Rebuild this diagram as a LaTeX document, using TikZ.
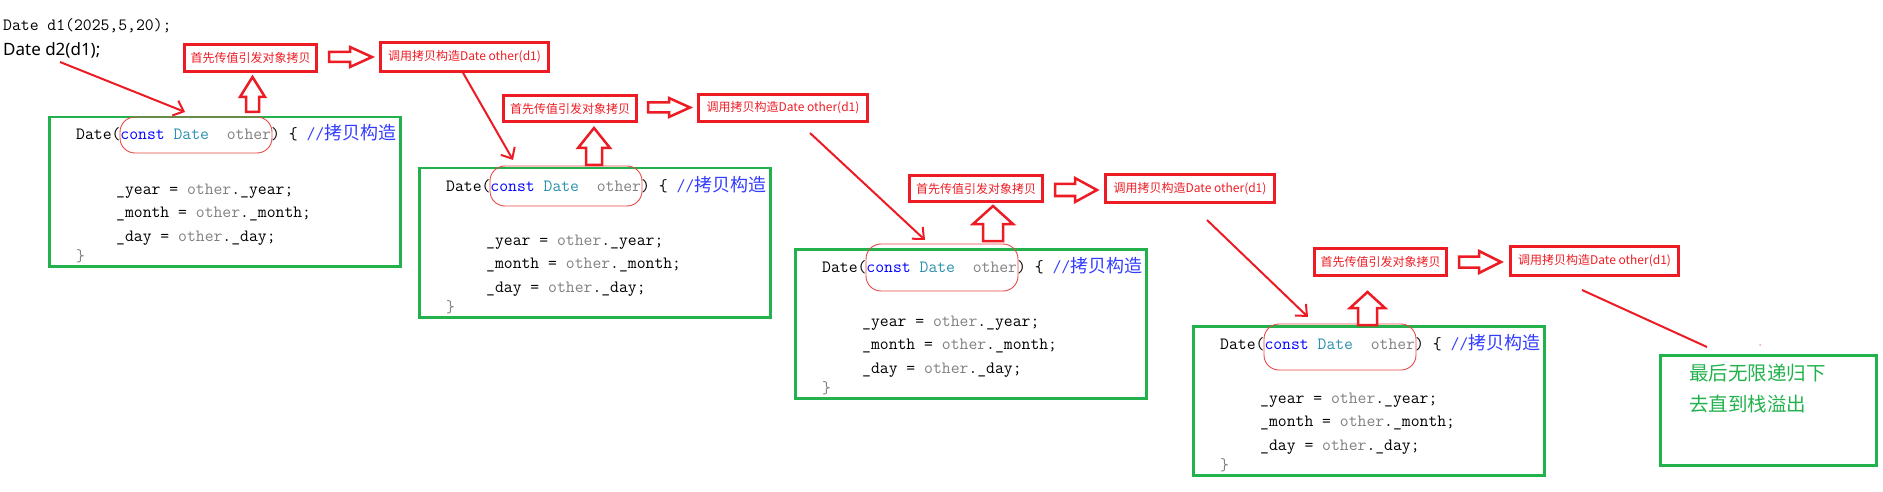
\documentclass[tikz,border=0pt]{standalone}
\usepackage{fontspec}
\usetikzlibrary{arrows.meta,calc}
\newfontfamily\cjk{Noto Sans CJK SC}
\newfontfamily\notosans{Noto Sans}
\definecolor{pred}{RGB}{237,28,36}
\definecolor{pgreen}{RGB}{34,177,76}
\definecolor{kwblue}{RGB}{0,0,255}
\definecolor{typeteal}{RGB}{43,145,175}
\definecolor{idgray}{RGB}{128,128,128}
\definecolor{cmblue}{RGB}{50,60,255}
\definecolor{ellred}{RGB}{232,70,70}
\definecolor{dotpink}{RGB}{245,160,170}
\newcommand\codefont{\ttfamily\fontsize{17.2}{20}\selectfont}
\tikzset{
  gbox/.style={draw=pgreen, line width=2.5pt, minimum width=351pt, minimum height=149pt, anchor=north west, inner sep=0pt},
  lbox/.style={draw=pred, line width=2.5pt, inner sep=0pt, text=pred, font=\cjk\fontsize{12}{14}\selectfont},
  code/.style={anchor=base west, inner sep=0pt, font=\codefont},
  hollow/.style={draw=pred, line width=2.5pt, fill=white, line join=miter},
  pointer/.style={draw=pred, line width=2pt, -{Straight Barb[length=9pt,width=16pt]}},
  plainline/.style={draw=pred, line width=2pt},
  oval/.style={draw=ellred, line width=0.9pt, rounded corners=15pt},
  finaltext/.style={anchor=west, inner sep=0pt, text=pgreen, font=\cjk\fontsize{19.5}{22}\selectfont},
}
% code block: name, X, Y (top-left), oval top, oval bottom
\newcommand\codeblock[5]{%
  \node[gbox] (#1) at (#2,#3) {};
  \node[code] (#1a) at ({#2+28},{#3+24}) {Date(\textcolor{kwblue}{const} \textcolor{typeteal}{Date}\ \ \textcolor{idgray}{other}) \{ \textcolor{cmblue}{//{\cjk\fontsize{18}{20}\selectfont 拷贝构造}}};
  \node[code] (#1b) at ({#2+68},{#3+78}) {\_year = \textcolor{idgray}{other}.\_year;};
  \node[code] (#1c) at ({#2+68},{#3+101}) {\_month = \textcolor{idgray}{other}.\_month;};
  \node[code] (#1d) at ({#2+68},{#3+125}) {\_day = \textcolor{idgray}{other}.\_day;};
  \node[code] (#1e) at ({#2+28},{#3+145}) {\textcolor{idgray}{\}}};
  \draw[oval] ({#2+72},#4) rectangle ({#2+224},#5);
}
% hollow right arrow: x0, x1, yc, head half, shaft half, head length
\newcommand\hollowRight[6]{%
  \draw[hollow] (#1,{#3-#5}) -- ({#2-#6},{#3-#5}) -- ({#2-#6},{#3-#4}) -- (#2,#3)
    -- ({#2-#6},{#3+#4}) -- ({#2-#6},{#3+#5}) -- (#1,{#3+#5}) -- cycle;
}
% hollow up arrow: xc, apex, bottom, head half, shaft half, head bottom
\newcommand\hollowUp[6]{%
  \draw[hollow] ({#1-#5},#3) -- ({#1-#5},#6) -- ({#1-#4},#6) -- (#1,#2)
    -- ({#1+#4},#6) -- ({#1+#5},#6) -- ({#1+#5},#3) -- cycle;
}
\begin{document}
\begin{tikzpicture}[x=1pt,y=-1pt]
\useasboundingbox (0,0) rectangle (1883,492);

% top statements
\node[anchor=west, inner sep=0pt, font=\codefont] (d1) at (3,26) {Date d1(2025,5,20);};
\node[anchor=west, inner sep=0pt, font=\notosans\fontsize{17}{20}\selectfont] (d2) at (3,50) {Date d2(d1);};

% code blocks
\codeblock{gA}{48}{116}{117}{153}
\codeblock{gB}{418}{167}{166}{206}
\codeblock{gC}{794}{248}{244}{291}
\codeblock{gD}{1192}{325}{324}{370}

% label boxes
\node[lbox, minimum width=132pt, minimum height=27pt] (l1) at (250.5,58) {首先传值引发对象拷贝};
\node[lbox, minimum width=168pt, minimum height=29pt] (l2) at (464.5,57) {调用拷贝构造Date other(d1)};
\node[lbox, minimum width=133pt, minimum height=26pt] (l3) at (570,108.5) {首先传值引发对象拷贝};
\node[lbox, minimum width=169pt, minimum height=27pt] (l4) at (783,108) {调用拷贝构造Date other(d1)};
\node[lbox, minimum width=133pt, minimum height=26pt] (l5) at (976,188.5) {首先传值引发对象拷贝};
\node[lbox, minimum width=169pt, minimum height=28pt] (l6) at (1190,188.5) {调用拷贝构造Date other(d1)};
\node[lbox, minimum width=132pt, minimum height=27pt] (l7) at (1380.5,262) {首先传值引发对象拷贝};
\node[lbox, minimum width=168pt, minimum height=29pt] (l8) at (1594.5,261) {调用拷贝构造Date other(d1)};

% hollow right arrows
\hollowRight{329}{372}{57}{10}{5}{22}
\hollowRight{648}{690}{107.5}{9.5}{5}{21}
\hollowRight{1055}{1097}{190}{12}{6}{22}
\hollowRight{1459}{1501}{262}{11}{5.5}{22}

% hollow up arrows
\hollowUp{252.5}{77}{112}{12.5}{6.5}{97}
\hollowUp{594}{128}{165}{16}{8}{148}
\hollowUp{993}{206}{241}{20}{10}{224}
\hollowUp{1367.5}{292}{325}{17.5}{9.5}{308}

% pointer lines
\coordinate (p1s) at (60,62);   \coordinate (p1e) at (185,112);
\coordinate (p2s) at (462,71);  \coordinate (p2e) at (513,160);
\coordinate (p3s) at (810,133); \coordinate (p3e) at (925,240);
\coordinate (p4s) at (1207,220);\coordinate (p4e) at (1308,317);
\coordinate (p5s) at (1582,290);\coordinate (p5e) at (1707,347);
\draw[pointer] (p1s) -- (p1e);
\draw[pointer] (p2s) -- (p2e);
\draw[pointer] (p3s) -- (p3e);
\draw[pointer] (p4s) -- (p4e);
\draw[plainline] (p5s) -- (p5e);

% final box
\node[draw=pgreen, line width=2.5pt, minimum width=216pt, minimum height=110pt, anchor=north west, inner sep=0pt] (fin) at (1659.25,354.25) {};
\node[finaltext] (f1) at (1689,373) {最后无限递归下};
\node[finaltext] (f2) at (1689,404) {去直到栈溢出};
\fill[dotpink] (1760,345) circle (1pt);
\end{tikzpicture}
\end{document}
